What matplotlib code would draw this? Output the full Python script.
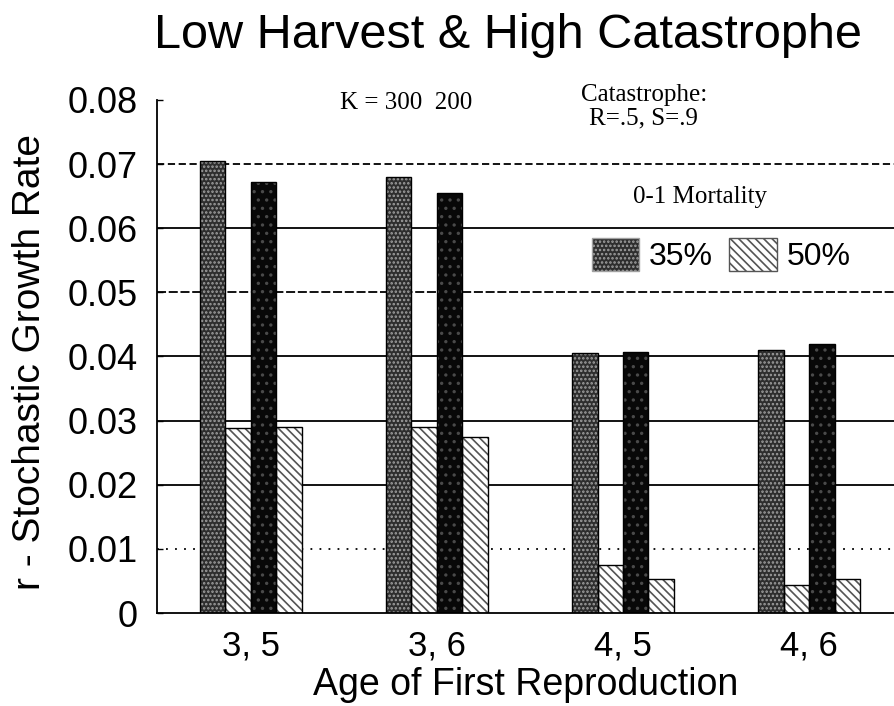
import numpy as np
import matplotlib
matplotlib.use("Agg")
import matplotlib.pyplot as plt
from matplotlib.patches import Patch

# data
groups = ["3, 5", "3, 6", "4, 5", "4, 6"]
k300_m35 = [0.0705, 0.0680, 0.0405, 0.0410]
k300_m50 = [0.0288, 0.0290, 0.0075, 0.0043]
k200_m35 = [0.0672, 0.0655, 0.0407, 0.0420]
k200_m50 = [0.0290, 0.0275, 0.0053, 0.0053]
yticks = [0, 0.01, 0.02, 0.03, 0.04, 0.05, 0.06, 0.07, 0.08]
ytick_labels = ["0", "0.01", "0.02", "0.03", "0.04", "0.05", "0.06", "0.07", "0.08"]

plt.rcParams["font.family"] = ["Liberation Sans", "DejaVu Sans"]
plt.rcParams["hatch.linewidth"] = 1.2

fig = plt.figure(figsize=(8.95, 7.06), dpi=100)
ax = fig.add_axes([0.1754, 0.1317, 0.8246, 0.7267])

x = np.arange(len(groups))
w = 0.137

# (values, face, hatch colour, hatch) in drawing order
series = [
    (k300_m35, "#2e2e2e", "#a0a0a0", "...."),
    (k300_m50, "white", "#555555", "\\\\\\\\"),
    (k200_m35, "#080808", "#4a4a4a", ".."),
    (k200_m50, "white", "#555555", "\\\\\\\\"),
]

# grid lines first so bars cover them
grid_styles = {0.01: (0, (1, 4)), 0.05: (0, (5, 1.5)), 0.07: (0, (4, 2))}
for t in yticks[1:-1]:
    ax.axhline(t, color="black", lw=1.3, ls=grid_styles.get(t, "-"), zorder=0)

for i, (vals, face, hcol, hatch) in enumerate(series):
    pos = x + (i - 1.5) * w
    ax.bar(pos, vals, w, color=face, edgecolor=hcol, hatch=hatch, linewidth=0, zorder=2)
    ax.bar(pos, vals, w, fill=False, edgecolor="black", linewidth=1.0, zorder=3)

ax.set_xlim(-0.505, 3.462)
ax.set_ylim(0, 0.08)
ax.set_xticks(x)
ax.set_xticklabels(groups, fontsize=25)
ax.set_yticks(yticks)
ax.set_yticklabels(ytick_labels, fontsize=26)
ax.tick_params(axis="x", length=0, pad=12)
ax.tick_params(axis="y", direction="in", length=4, width=1, pad=14)
for s in ["top", "right"]:
    ax.spines[s].set_visible(False)
ax.spines["left"].set_linewidth(1.3)
ax.spines["bottom"].set_linewidth(1.3)

ax.set_ylabel("r - Stochastic Growth Rate", fontsize=28)
ax.yaxis.set_label_coords(-0.148, 0.49)
ax.set_xlabel("Age of First Reproduction", fontsize=27)
ax.xaxis.set_label_coords(0.5, -0.106)

fig.suptitle("Low Harvest & High Catastrophe", fontsize=35, x=0.5676, y=0.981, va="top")

serif = ["Liberation Serif", "DejaVu Serif"]
fig.text(406 / 895, 1 - 103 / 706, "K = 300  200", family=serif, fontsize=18, ha="center", va="center")
fig.text(644 / 895, 1 - 95 / 706, "Catastrophe:", family=serif, fontsize=18, ha="center", va="center")
fig.text(643 / 895, 1 - 118 / 706, "R=.5, S=.9", family=serif, fontsize=18, ha="center", va="center")
fig.text(700 / 895, 1 - 197 / 706, "0-1 Mortality", family=serif, fontsize=18, ha="center", va="center")

handles = [
    Patch(facecolor="#2e2e2e", edgecolor="#a0a0a0", hatch="....", linewidth=0),
    Patch(facecolor="white", edgecolor="#555555", hatch="\\\\\\\\", linewidth=0),
]
leg = ax.legend(handles, ["35%", "50%"], ncol=2, frameon=False, fontsize=23,
                loc="center", bbox_to_anchor=(721 / 895, 1 - 255 / 706),
                bbox_transform=fig.transFigure, handlelength=1.5, handleheight=1.2,
                handletextpad=0.3, columnspacing=0.5, borderpad=0)
for p in leg.get_patches():
    p.set_linewidth(1.0)

fig.savefig("out.png", dpi=100)
